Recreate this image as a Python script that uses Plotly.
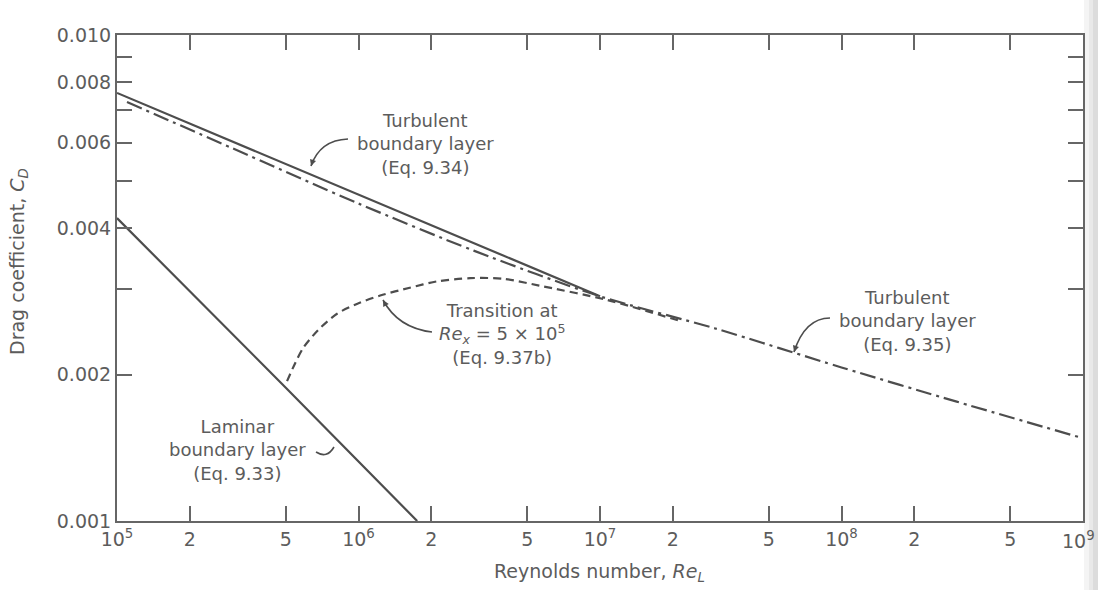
import plotly.graph_objects as go

# ---- data ----
re_laminar = [1.0e5, 5.0e5, 1.75e6]
cd_laminar = [0.0042, 0.00188, 0.0010]

re_turb34 = [1.0e5, 1.0e6, 1.0e7]
cd_turb34 = [0.0076, 0.0047, 0.0029]

re_turb35 = [1.1e5, 3.0e5, 1.0e6, 3.0e6, 1.0e7, 3.0e7, 1.0e8, 3.0e8, 1.0e9]
cd_turb35 = [0.00728, 0.00585, 0.0045, 0.0036, 0.0029, 0.00249, 0.00207, 0.00176, 0.00148]

re_trans = [5.06e5, 5.46e5, 5.9e5, 6.8e5, 8.15e5, 9.9e5, 1.23e6, 1.63e6, 2.1e6,
            2.9e6, 4.0e6, 5.6e6, 1.07e7, 2.2e7]
cd_trans = [0.00194, 0.00211, 0.00227, 0.00247, 0.00267, 0.0028, 0.00291, 0.00302,
            0.00311, 0.00316, 0.00315, 0.00305, 0.00285, 0.00257]

x_tickvals = [1e5, 2e5, 5e5, 1e6, 2e6, 5e6, 1e7, 2e7, 5e7, 1e8, 2e8, 5e8, 1e9]
x_ticktext = ["10<sup>5</sup>", "2", "5", "10<sup>6</sup>", "2", "5", "10<sup>7</sup>",
              "2", "5", "10<sup>8</sup>", "2", "5", " "]
last_x_label = "10<sup>9</sup>"   # drawn as annotation so it stays inside the page
y_tickvals = [0.001, 0.002, 0.003, 0.004, 0.005, 0.006, 0.007, 0.008, 0.009, 0.010]
y_ticktext = ["0.001", "0.002", " ", "0.004", " ", "0.006", " ", "0.008", " ", "0.010"]

# ---- layout geometry ----
W, H = 1098, 590
L, R, T, B = 117, 15, 35, 69
PW, PH = W - L - R, H - T - B

def px(x):
    return (x - L) / PW

def py(y):
    return (H - B - y) / PH

LINE = "#4d4d4d"
TXT = "#5c5c5c"
FONT = "DejaVu Sans"

fig = go.Figure()
fig.add_trace(go.Scatter(x=re_laminar, y=cd_laminar, mode="lines",
                         line=dict(color=LINE, width=2.2), hoverinfo="skip"))
fig.add_trace(go.Scatter(x=re_turb34, y=cd_turb34, mode="lines",
                         line=dict(color=LINE, width=2.2), hoverinfo="skip"))
fig.add_trace(go.Scatter(x=re_turb35, y=cd_turb35, mode="lines",
                         line=dict(color=LINE, width=2.2, dash="16px,5px,3px,5px",
                                   shape="spline", smoothing=0.8), hoverinfo="skip"))
fig.add_trace(go.Scatter(x=re_trans, y=cd_trans, mode="lines",
                         line=dict(color=LINE, width=2.2, dash="8px,5px",
                                   shape="spline", smoothing=0.8), hoverinfo="skip"))

axis_common = dict(type="log", showgrid=False, zeroline=False, showline=True,
                   linecolor="#666666", linewidth=2, mirror="ticks", ticks="inside",
                   ticklen=15, tickwidth=1.6, tickcolor="#666666",
                   tickfont=dict(family=FONT, size=19, color=TXT))

fig.update_layout(
    width=W, height=H, margin=dict(l=L, r=R, t=T, b=B),
    paper_bgcolor="white", plot_bgcolor="white", showlegend=False,
    xaxis=dict(range=[5, 9], tickvals=x_tickvals, ticktext=x_ticktext, **axis_common),
    yaxis=dict(range=[-3, -2], tickvals=y_tickvals, ticktext=y_ticktext, **axis_common),
)

fig.add_annotation(text=last_x_label, xref="paper", yref="paper", x=px(1097), y=py(526),
                   xanchor="right", yanchor="top", showarrow=False,
                   font=dict(family=FONT, size=19, color=TXT))

ann_font = dict(family=FONT, size=18, color=TXT)
labels = [
    ("Turbulent<br>boundary layer<br>(Eq. 9.34)", 425, 144),
    ("Transition at<br><i>Re</i><sub><i>x</i></sub> = 5 × 10<sup>5</sup><br>(Eq. 9.37b)", 502, 334),
    ("Turbulent<br>boundary layer<br>(Eq. 9.35)", 907, 321),
    ("Laminar<br>boundary layer<br>(Eq. 9.33)", 237, 450),
]
for text, cx, cy in labels:
    fig.add_annotation(text=text, xref="paper", yref="paper", x=px(cx), y=py(cy),
                       xanchor="center", yanchor="middle", align="center",
                       showarrow=False, font=ann_font)

# axis titles
fig.add_annotation(text="Reynolds number, <i>Re</i><sub><i>L</i></sub>", xref="paper", yref="paper",
                   x=px(599), y=py(572), xanchor="center", yanchor="middle", showarrow=False,
                   font=dict(family=FONT, size=19, color=TXT))
fig.add_annotation(text="Drag coefficient, <i>C</i><sub><i>D</i></sub>", xref="paper", yref="paper",
                   x=px(18), y=py(262), xanchor="center", yanchor="middle", textangle=-90,
                   showarrow=False, font=dict(family=FONT, size=19, color=TXT))

# curved leader lines
curves = [
    ((348, 139), (320, 140), (311, 166)),
    ((432, 332), (398, 328), (383, 300)),
    ((830, 318), (805, 318), (794, 352)),
    ((316, 452), (327, 459), (334, 447)),
]
for (x0, y0), (xc, yc), (x1, y1) in curves:
    fig.add_shape(type="path", xref="paper", yref="paper",
                  path=f"M {px(x0)},{py(y0)} Q {px(xc)},{py(yc)} {px(x1)},{py(y1)}",
                  line=dict(color=LINE, width=1.6))
heads = [((311, 166), (2.6, -7.6)), ((383, 300), (3.8, 7.0)), ((794, 352), (2.5, -7.6))]
for (hx, hy), (ax, ay) in heads:
    fig.add_annotation(text="", xref="paper", yref="paper", x=px(hx), y=py(hy),
                       ax=ax, ay=ay, showarrow=True, arrowhead=2, arrowsize=0.9,
                       arrowwidth=1.4, arrowcolor=LINE)

# scan shadow at right edge
for x0, col in [(1084, "#f4f4f4"), (1089, "#e9e9e9"), (1093, "#dcdcdc")]:
    fig.add_shape(type="rect", xref="paper", yref="paper", x0=px(x0), x1=px(W),
                  y0=py(H), y1=py(0), fillcolor=col, line=dict(width=0), layer="below")

fig.write_html("out.html", config={"displayModeBar": False},
               post_script="document.body.style.margin='0';document.body.style.overflow='hidden';")
